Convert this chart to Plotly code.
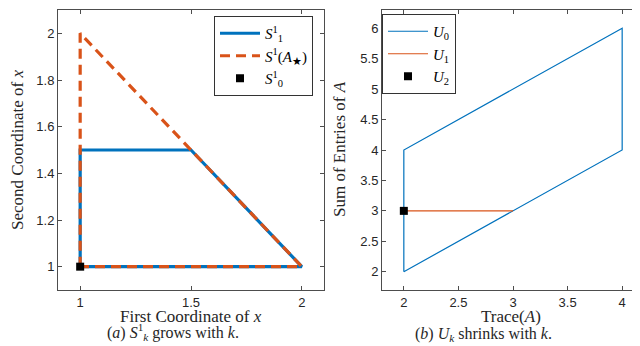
import plotly.graph_objects as go

# Left panel data
s11_x = [1, 1, 1.5, 2, 1]
s11_y = [1, 1.5, 1.5, 1, 1]
s1a_x = [1, 1, 2, 1]
s1a_y = [1, 2, 1, 1]
s10_x = [1]
s10_y = [1]

# Right panel data
u0_x = [2, 2, 4, 4, 2]
u0_y = [2, 4, 6, 4, 2]
u1_x = [2, 3]
u1_y = [3, 3]
u2_x = [2]
u2_y = [3]

left_xticks = [1, 1.5, 2]
left_yticks = [1, 1.2, 1.4, 1.6, 1.8, 2]
right_xticks = [2, 2.5, 3, 3.5, 4]
right_yticks = [2, 2.5, 3, 3.5, 4, 4.5, 5, 5.5, 6]

BLUE = "#0072BD"
ORANGE = "#D95319"
AX = "#4d4d4d"
W, H = 640, 346
SERIF = "Liberation Serif, DejaVu Serif, serif"
SANS = "Liberation Sans, Arial, sans-serif"

fig = go.Figure()
fig.add_trace(go.Scatter(x=s11_x, y=s11_y, mode="lines", line=dict(color=BLUE, width=3.2),
                         name="<i>S</i><sup>1</sup><sub>1</sub>", legend="legend", xaxis="x", yaxis="y"))
fig.add_trace(go.Scatter(x=s1a_x, y=s1a_y, mode="lines", line=dict(color=ORANGE, width=3.2, dash="10px,6px"),
                         name="<i>S</i><sup>1</sup>(<i>A</i><sub>★</sub>)", legend="legend", xaxis="x", yaxis="y"))
fig.add_trace(go.Scatter(x=s10_x, y=s10_y, mode="markers", marker=dict(color="black", symbol="square", size=8),
                         name="<i>S</i><sup>1</sup><sub>0</sub>", legend="legend", xaxis="x", yaxis="y"))

fig.add_trace(go.Scatter(x=u0_x, y=u0_y, mode="lines", line=dict(color=BLUE, width=1.2),
                         name="<i>U</i><sub>0</sub>", legend="legend2", xaxis="x2", yaxis="y2"))
fig.add_trace(go.Scatter(x=u1_x, y=u1_y, mode="lines", line=dict(color=ORANGE, width=1.2),
                         name="<i>U</i><sub>1</sub>", legend="legend2", xaxis="x2", yaxis="y2"))
fig.add_trace(go.Scatter(x=u2_x, y=u2_y, mode="markers", marker=dict(color="black", symbol="square", size=8),
                         name="<i>U</i><sub>2</sub>", legend="legend2", xaxis="x2", yaxis="y2"))

axcommon = dict(showline=True, linecolor=AX, linewidth=1, mirror="ticks", ticks="inside",
                ticklen=4, tickcolor=AX, showgrid=False, zeroline=False,
                tickfont=dict(family=SANS, size=13, color="#262626"))

ydom = [1 - 282 / H, 1 - 2 / H]
fig.update_layout(
    width=W, height=H, margin=dict(l=0, r=0, t=0, b=0),
    paper_bgcolor="white", plot_bgcolor="white",
    xaxis=dict(domain=[50 / W, 316 / W], range=[0.9, 2.1], tickvals=left_xticks,
               ticktext=["1", "1.5", "2"], anchor="y", **axcommon),
    yaxis=dict(domain=ydom, range=[0.9, 2.1], tickvals=left_yticks,
               ticktext=["1", "1.2", "1.4", "1.6", "1.8", "2"], anchor="x", **axcommon),
    xaxis2=dict(domain=[374 / W, 636 / W], range=[1.8, 4.2], tickvals=right_xticks,
                ticktext=["2", "2.5", "3", "3.5", "4"], anchor="y2", **axcommon),
    yaxis2=dict(domain=ydom, range=[1.7, 6.3], tickvals=right_yticks,
                ticktext=["2", "2.5", "3", "3.5", "4", "4.5", "5", "5.5", "6"], anchor="x2", **axcommon),
    legend=dict(x=305 / W, y=1 - 8 / H, xanchor="right", yanchor="top",
                bordercolor="#333", borderwidth=1, bgcolor="white",
                font=dict(family=SERIF, size=15, color="black"), tracegroupgap=0, itemwidth=40),
    legend2=dict(x=374 / W, y=1 - 6 / H, xanchor="left", yanchor="top",
                 bordercolor="#333", borderwidth=1, bgcolor="white",
                 font=dict(family=SERIF, size=15, color="black"), tracegroupgap=0, itemwidth=40),
    showlegend=True,
)

def ann(text, px, py, angle=0, size=17):
    fig.add_annotation(text=text, x=px / W, y=1 - py / H, xref="paper", yref="paper",
                       showarrow=False, textangle=angle, xanchor="center", yanchor="middle",
                       font=dict(family=SERIF, size=size, color="#262626"))

ann("First Coordinate of <i>x</i>", 183, 308)
ann("Trace(<i>A</i>)", 503, 308)
ann("(<i>a</i>) <i>S</i><sup>1</sup><sub><i>k</i></sub> grows with <i>k</i>.", 165, 324, size=16)
ann("(<i>b</i>) <i>U</i><sub><i>k</i></sub> shrinks with <i>k</i>.", 475, 326, size=16)
ann("Second Coordinate of <i>x</i>", 9, 142, angle=-90)
ann("Sum of Entries of <i>A</i>", 331, 141, angle=-90)

fig.write_html("out.html")
